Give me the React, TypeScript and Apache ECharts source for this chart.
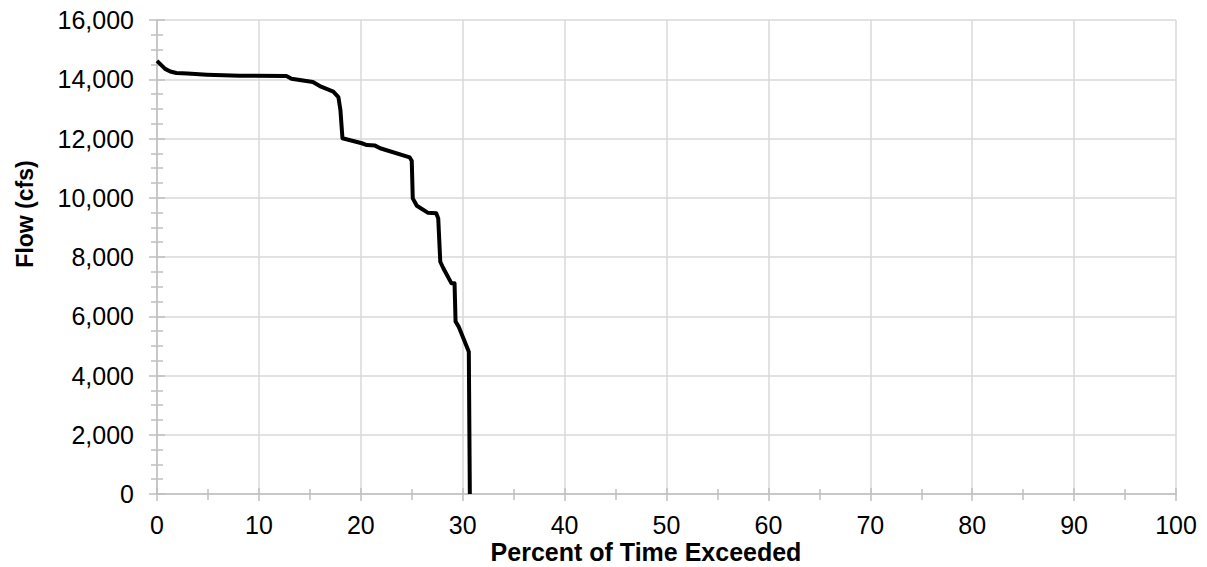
import React, { useEffect, useRef } from "react";
import * as echarts from "echarts";

const percentExceeded = [
  0, 0.3, 0.8, 1.3, 1.9, 3.0, 4.9, 8.1, 12.7, 13.2, 15.3, 16.1, 17.3, 17.8, 18.0, 18.2,
  20.1, 20.6, 21.4, 21.9, 24.8, 25.0, 25.1, 25.5, 26.6, 27.4, 27.6, 27.8, 28.1, 28.9,
  29.2, 29.3, 29.6, 30.6, 30.7,
];
const flowCfs = [
  14620, 14520, 14350, 14260, 14210, 14190, 14155, 14120, 14110, 14020, 13910, 13750,
  13580, 13400, 12960, 12010, 11840, 11780, 11760, 11670, 11360, 11250, 9980, 9730,
  9490, 9474, 9300, 7840, 7620, 7110, 7110, 5820, 5650, 4800, 0,
];
const xTitle = "Percent of Time Exceeded";
const yTitle = "Flow (cfs)";

const FONT = "'Liberation Sans', Arial, sans-serif";
const AXIS_GRAY = "#bfbfbf";
const GRID_GRAY = "#d9d9d9";

export default function App() {
  const ref = useRef<HTMLDivElement>(null);
  useEffect(() => {
    if (!ref.current) return;
    const chart = echarts.init(ref.current, undefined, { renderer: "svg" });
    const data = percentExceeded.map((p, i) => [p, flowCfs[i]]);
    const tickStyle = { color: AXIS_GRAY, width: 1.5 };
    chart.setOption({
      animation: false,
      textStyle: { fontFamily: FONT },
      grid: { left: 157, right: 31, top: 20, bottom: 73, containLabel: false },
      xAxis: [
        {
          type: "value",
          min: 0,
          max: 100,
          interval: 10,
          position: "bottom",
          axisLine: { show: true, onZero: false, lineStyle: { color: AXIS_GRAY, width: 1.5 } },
          axisTick: { show: true, inside: false, length: 7, lineStyle: tickStyle },
          minorTick: { show: true, splitNumber: 2, length: 6, lineStyle: tickStyle },
          splitLine: { show: true, lineStyle: { color: GRID_GRAY, width: 1.5 } },
          axisLabel: { color: "#000", fontSize: 25, fontFamily: FONT, margin: 18 },
        },
        {
          type: "value",
          min: 0,
          max: 100,
          interval: 10,
          position: "bottom",
          axisLine: { show: false, onZero: false },
          axisTick: { show: true, inside: true, length: 6, lineStyle: tickStyle },
          minorTick: { show: true, splitNumber: 2, length: 5, lineStyle: tickStyle },
          splitLine: { show: false },
          axisLabel: { show: false },
        },
      ],
      yAxis: [
        {
          type: "value",
          min: 0,
          max: 16000,
          interval: 2000,
          position: "left",
          axisLine: { show: true, onZero: false, lineStyle: { color: AXIS_GRAY, width: 1.5 } },
          axisTick: { show: true, inside: false, length: 8, lineStyle: tickStyle },
          minorTick: { show: true, splitNumber: 4, length: 6, lineStyle: tickStyle },
          splitLine: { show: true, lineStyle: { color: GRID_GRAY, width: 1.5 } },
          axisLabel: {
            color: "#000",
            fontSize: 25,
            fontFamily: FONT,
            margin: 23,
            formatter: (v: number) => v.toLocaleString("en-US"),
          },
        },
        {
          type: "value",
          min: 0,
          max: 16000,
          interval: 2000,
          position: "left",
          axisLine: { show: false, onZero: false },
          axisTick: { show: true, inside: true, length: 8, lineStyle: tickStyle },
          minorTick: { show: true, splitNumber: 4, length: 6, lineStyle: tickStyle },
          splitLine: { show: false },
          axisLabel: { show: false },
        },
      ],
      graphic: [
        {
          type: "text",
          x: 646,
          y: 552,
          style: {
            text: xTitle,
            fontSize: 25,
            fontWeight: "bold",
            fontFamily: FONT,
            fill: "#000",
            align: "center",
            verticalAlign: "middle",
          },
        },
        {
          type: "text",
          x: 25,
          y: 214,
          rotation: Math.PI / 2,
          style: {
            text: yTitle,
            fontSize: 23,
            fontWeight: "bold",
            fontFamily: FONT,
            fill: "#000",
            align: "center",
            verticalAlign: "middle",
          },
        },
      ],
      series: [
        {
          type: "line",
          xAxisIndex: 0,
          yAxisIndex: 0,
          data,
          showSymbol: false,
          symbol: "none",
          lineStyle: { color: "#000", width: 4, join: "round" },
          z: 5,
        },
      ],
    });
    return () => chart.dispose();
  }, []);
  return <div ref={ref} style={{ width: 1207, height: 567, position: "absolute", left: 0, top: 0 }} />;
}
